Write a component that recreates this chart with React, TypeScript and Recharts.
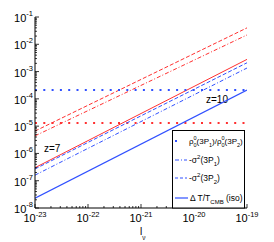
import React from 'react';
import { LineChart, Line, XAxis, YAxis, Legend, Customized } from 'recharts';

// frequency range, both ends of each power law
const nu = [1e-23, 1e-19];

// z = 7 (red)
const ratioZ7 = [1.3e-5, 1.3e-5];
const sigma1Z7 = [4.4e-6, 2.2e-2];
const sigma2Z7 = [6.6e-6, 4.0e-2];
const dTZ7 = [3.0e-7, 2.8e-3];

// z = 10 (blue)
const ratioZ10 = [2.1e-4, 2.1e-4];
const sigma1Z10 = [1.6e-7, 1.35e-3];
const sigma2Z10 = [2.7e-7, 2.1e-3];
const dTZ10 = [2.3e-8, 2.1e-4];

const xMajor = [1e-23, 1e-22, 1e-21, 1e-20, 1e-19];
const yMajor = [1e-8, 1e-7, 1e-6, 1e-5, 1e-4, 1e-3, 1e-2, 1e-1];

const RED = '#ff3030';
const BLUE = '#3050ff';
const FONT = '"Liberation Sans", Arial, Helvetica, sans-serif';

const withMinor = (majors: number[]) => {
  const out: number[] = [];
  majors.forEach((m, i) => {
    out.push(m);
    if (i < majors.length - 1) for (let k = 2; k <= 9; k++) out.push(k * m);
  });
  return out;
};
const xTicks = withMinor(xMajor);
const yTicks = withMinor(yMajor);

const data = nu.map((v, i) => ({
  nu: v,
  ratioZ7: ratioZ7[i],
  sigma1Z7: sigma1Z7[i],
  sigma2Z7: sigma2Z7[i],
  dTZ7: dTZ7[i],
  ratioZ10: ratioZ10[i],
  sigma1Z10: sigma1Z10[i],
  sigma2Z10: sigma2Z10[i],
  dTZ10: dTZ10[i],
}));

const isMajor = (v: number) => {
  const l = Math.log10(v);
  return Math.abs(l - Math.round(l)) < 1e-6;
};
const expOf = (v: number) => String(Math.round(Math.log10(v)));

const BottomTick = (props: any) => {
  const { x, y, payload } = props;
  const major = isMajor(payload.value);
  return (
    <g>
      <line x1={x} x2={x} y1={y} y2={y - (major ? 4 : 2)} stroke="#000" strokeWidth={0.8} />
      {major && (
        <text x={x} y={y + 14} textAnchor="middle" fontSize={11} fill="#000" fontFamily={FONT}>
          10<tspan dy={-5} fontSize={7.5}>{expOf(payload.value)}</tspan>
        </text>
      )}
    </g>
  );
};

const TopTick = (props: any) => {
  const { x, y, payload } = props;
  const major = isMajor(payload.value);
  return <line x1={x} x2={x} y1={y} y2={y + (major ? 4 : 2)} stroke="#000" strokeWidth={0.8} />;
};

const LeftTick = (props: any) => {
  const { x, y, payload } = props;
  const major = isMajor(payload.value);
  return (
    <g>
      <line x1={x} x2={x + (major ? 4 : 2)} y1={y} y2={y} stroke="#000" strokeWidth={0.8} />
      {major && (
        <text x={x - 2} y={y + 5} textAnchor="end" fontSize={11} fill="#000" fontFamily={FONT}>
          10<tspan dy={-6} fontSize={7.5}>{expOf(payload.value)}</tspan>
        </text>
      )}
    </g>
  );
};

const RightTick = (props: any) => {
  const { x, y, payload } = props;
  const major = isMajor(payload.value);
  return <line x1={x} x2={x - (major ? 4 : 2)} y1={y} y2={y} stroke="#000" strokeWidth={0.8} />;
};

const LegendBox = () => (
  <svg width={74} height={80} style={{ display: 'block' }} fontFamily={FONT}>
    <rect x={0.5} y={0.5} width={72} height={77.5} fill="#fff" stroke="#000" />
    <rect x={3} y={10} width={2} height={2} fill={BLUE} />
    <text x={17} y={14} fontSize={8}>
      ρ<tspan dy={-4} fontSize={5.5}>0</tspan>
      <tspan dx={-3.1} dy={7} fontSize={5.5}>0</tspan>
      <tspan dy={-3}>(3P</tspan>
      <tspan dy={2.5} fontSize={5.5}>1</tspan>
      <tspan dy={-2.5}>)/ρ</tspan>
      <tspan dy={-4} fontSize={5.5}>0</tspan>
      <tspan dx={-3.1} dy={7} fontSize={5.5}>0</tspan>
      <tspan dy={-3}>(3P</tspan>
      <tspan dy={2.5} fontSize={5.5}>2</tspan>
      <tspan dy={-2.5}>)</tspan>
    </text>

    <line x1={3} x2={15} y1={30} y2={30} stroke={BLUE} strokeDasharray="4 2 1 2" />
    <text x={17} y={33} fontSize={8.5}>
      -σ<tspan dy={-4} fontSize={6}>2</tspan>
      <tspan dy={4}>(3P</tspan>
      <tspan dy={2.5} fontSize={6}>1</tspan>
      <tspan dy={-2.5}>)</tspan>
    </text>

    <line x1={3} x2={15} y1={48} y2={48} stroke={BLUE} strokeDasharray="3 2" />
    <text x={17} y={51} fontSize={8.5}>
      -σ<tspan dy={-4} fontSize={6}>2</tspan>
      <tspan dy={4}>(3P</tspan>
      <tspan dy={2.5} fontSize={6}>2</tspan>
      <tspan dy={-2.5}>)</tspan>
    </text>

    <line x1={3} x2={16} y1={68} y2={68} stroke={BLUE} strokeWidth={1.2} />
    <text x={18} y={71} fontSize={8.5}>
      Δ T/T<tspan dy={2.5} fontSize={6}>CMB</tspan>
      <tspan dy={-2.5}> (iso)</tspan>
    </text>
  </svg>
);

const Notes = () => (
  <g fontFamily={FONT} fill="#000">
    <text x={44} y={152} fontSize={10}>z=7</text>
    <text x={206} y={103} fontSize={10}>z=10</text>
    <text x={140} y={235} fontSize={10}>
      l<tspan dy={5} fontSize={6.5}>ν</tspan>
    </text>
  </g>
);

export default function App() {
  return (
    <div style={{ position: 'absolute', left: 0, top: 0 }}>
      <LineChart
        width={274}
        height={242}
        data={data}
        margin={{ top: 17, right: 27, bottom: 0, left: 0 }}
        style={{ fontFamily: FONT, background: '#fff' }}
      >
        <XAxis
          dataKey="nu"
          type="number"
          scale="log"
          domain={[1e-23, 1e-19]}
          allowDataOverflow
          ticks={xTicks}
          interval={0}
          tick={<BottomTick />}
          tickLine={false}
          tickSize={0}
          tickMargin={0}
          height={34}
          axisLine={{ stroke: '#000' }}
        />
        <XAxis
          xAxisId="top"
          orientation="top"
          dataKey="nu"
          type="number"
          scale="log"
          domain={[1e-23, 1e-19]}
          allowDataOverflow
          ticks={xTicks}
          interval={0}
          tick={<TopTick />}
          tickLine={false}
          tickSize={0}
          tickMargin={0}
          height={0}
          axisLine={{ stroke: '#000' }}
        />
        <YAxis
          type="number"
          scale="log"
          domain={[1e-8, 1e-1]}
          allowDataOverflow
          ticks={yTicks}
          interval={0}
          tick={<LeftTick />}
          tickLine={false}
          tickSize={0}
          tickMargin={0}
          width={35}
          axisLine={{ stroke: '#000' }}
        />
        <YAxis
          yAxisId="right"
          orientation="right"
          type="number"
          scale="log"
          domain={[1e-8, 1e-1]}
          allowDataOverflow
          ticks={yTicks}
          interval={0}
          tick={<RightTick />}
          tickLine={false}
          tickSize={0}
          tickMargin={0}
          width={0}
          axisLine={{ stroke: '#000' }}
        />

        <Line dataKey="ratioZ7" stroke={RED} strokeWidth={2} strokeDasharray="2 6.3" dot={false} isAnimationActive={false} />
        <Line dataKey="sigma2Z7" stroke={RED} strokeWidth={1} strokeDasharray="4 2" dot={false} isAnimationActive={false} />
        <Line dataKey="sigma1Z7" stroke={RED} strokeWidth={1} strokeDasharray="4 2 1 2" dot={false} isAnimationActive={false} />
        <Line dataKey="dTZ7" stroke={RED} strokeWidth={1} dot={false} isAnimationActive={false} />

        <Line dataKey="ratioZ10" stroke={BLUE} strokeWidth={2} strokeDasharray="2 6.3" dot={false} isAnimationActive={false} />
        <Line dataKey="sigma2Z10" stroke={BLUE} strokeWidth={1} strokeDasharray="4 2" dot={false} isAnimationActive={false} />
        <Line dataKey="sigma1Z10" stroke={BLUE} strokeWidth={1} strokeDasharray="4 2 1 2" dot={false} isAnimationActive={false} />
        <Line dataKey="dTZ10" stroke={BLUE} strokeWidth={1.2} dot={false} isAnimationActive={false} />

        <Customized component={Notes} />
        <Legend
          layout="horizontal"
          verticalAlign="middle"
          align="center"
          content={() => <LegendBox />}
          wrapperStyle={{ position: 'absolute', left: 172, top: 130, width: 74, height: 80, margin: 0, padding: 0 }}
        />
      </LineChart>
    </div>
  );
}
